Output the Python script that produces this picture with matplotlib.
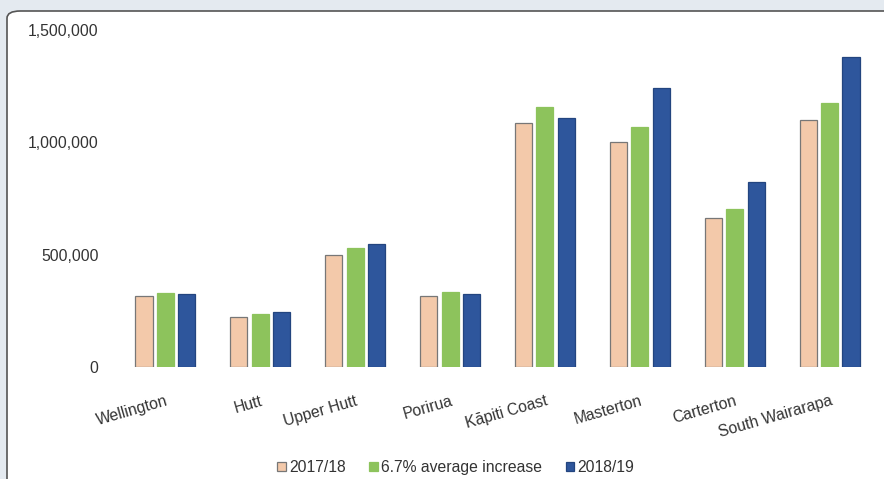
import numpy as np
import matplotlib
matplotlib.use("Agg")
import matplotlib.pyplot as plt
from matplotlib.patches import FancyBboxPatch
from matplotlib.ticker import FuncFormatter

plt.rcParams["font.family"] = ["Liberation Sans", "DejaVu Sans"]

# district totals by year
districts = ["Wellington", "Hutt", "Upper Hutt", "Porirua", "Kāpiti Coast",
             "Masterton", "Carterton", "South Wairarapa"]
y2017 = [314000, 222000, 498000, 318000, 1084000, 1003000, 664000, 1101000]
avg_increase = [329000, 237000, 530000, 335000, 1156000, 1070000, 704000, 1173000]
y2018 = [326000, 244000, 548000, 326000, 1107000, 1242000, 825000, 1378000]

series_labels = ["2017/18", "6.7% average increase", "2018/19"]
colors = ["#F3C9AA", "#8DC35C", "#2E569C"]
edges = ["#777777", "#8DC35C", "#23457F"]

W, H = 884, 479
fig = plt.figure(figsize=(W / 100, H / 100), dpi=100)
fig.patch.set_facecolor("#E4EAF0")

# white rounded panel behind the chart
top = 1 - 11 / H
panel = FancyBboxPatch((7 / W, -0.5), 1.2, top + 0.5,
                       boxstyle="round,pad=0,rounding_size=0.015",
                       transform=fig.transFigure, facecolor="white",
                       edgecolor="#555555", linewidth=1.2, zorder=-5)
fig.patches.append(panel)

ax = fig.add_axes([118 / W, 1 - 367 / H, (877 - 118) / W, (367 - 30) / H])
ax.set_facecolor("none")
ax.set_zorder(2)

x = np.arange(len(districts))
width = 0.18
step = 0.226
for i, vals in enumerate([y2017, avg_increase, y2018]):
    ax.bar(x + (i - 1) * step, vals, width, color=colors[i], edgecolor=edges[i],
           linewidth=0.9, label=series_labels[i])

fs = 11.3
ax.set_xlim(-0.5, len(districts) - 0.5)
ax.set_ylim(0, 1500000)
ax.set_yticks([0, 500000, 1000000, 1500000])
ax.yaxis.set_major_formatter(FuncFormatter(lambda v, p: f"{int(v):,}"))
ax.tick_params(axis="y", length=0, pad=14, labelsize=fs, labelcolor="#333333")

ax.set_xticks(x)
ax.set_xticklabels(districts, rotation=16, ha="right", rotation_mode="anchor",
                   fontsize=fs, color="#333333")
ax.tick_params(axis="x", length=0, pad=19)

for s in ax.spines.values():
    s.set_visible(False)

leg = ax.legend(loc="upper center", bbox_to_anchor=(0.445, -0.235), ncol=3,
                frameon=False, fontsize=fs, handlelength=0.55, handleheight=0.55,
                handletextpad=0.2, columnspacing=1.5)
for t in leg.get_texts():
    t.set_color("#333333")

fig.savefig("out.png", dpi=100, facecolor=fig.get_facecolor())
